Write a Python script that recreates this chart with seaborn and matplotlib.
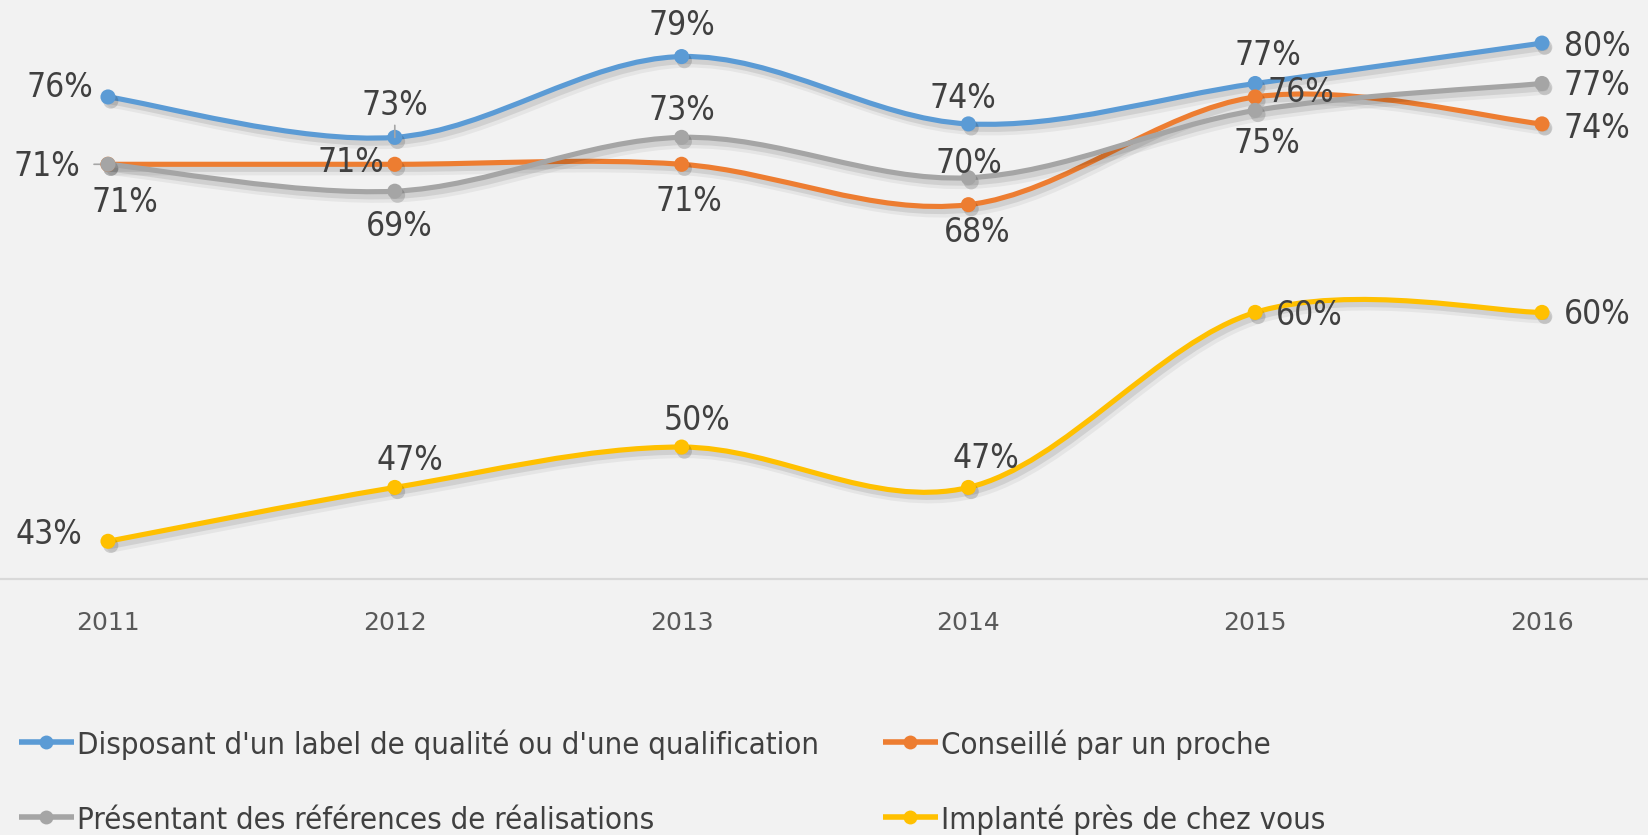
import numpy as np
import pandas as pd
import matplotlib
matplotlib.use("Agg")
import matplotlib.pyplot as plt
import seaborn as sns
from matplotlib.path import Path
from matplotlib.patches import PathPatch
from matplotlib.lines import Line2D
import matplotlib.patheffects as pe

# ---- data -----------------------------------------------------------------
years = ["2011", "2012", "2013", "2014", "2015", "2016"]
label_qualite = [76, 73, 79, 74, 77, 80]
conseil_proche = [71, 71, 71, 68, 76, 74]
references = [71, 69, 73, 70, 75, 77]
proximite = [43, 47, 50, 47, 60, 60]

series_names = [
    "Disposant d'un label de qualité ou d'une qualification",
    "Conseillé par un proche",
    "Présentant des références de réalisations",
    "Implanté près de chez vous",
]
series_values = [label_qualite, conseil_proche, references, proximite]

# ---- styling ----------------------------------------------------------------
colors = ["#5B9BD5", "#ED7D31", "#A5A5A5", "#FFC000"]
BG = "#F2F2F2"
TEXT = "#404040"

# data label placement: offset (pixels) of the label centre from its point
label_offsets = [
    [(-48, 12), (0, 34), (0, 34), (-6, 28), (13, 30), (55, -1)],
    [(-61, 0), (-44, 4), (7, -35), (9, -25), (46, 7), (55, -2)],
    [(17, -36), (4, -33), (0, 29), (0, 17), (12, -31), (55, 0)],
    [(-59, 9), (15, 29), (15, 29), (17, 31), (54, -1), (55, 0)],
]

sns.set_theme(style="white")
plt.rcParams["font.family"] = ["DejaVu Sans"]
LABEL_FONT = dict(family="DejaVu Sans", stretch="condensed")

W, H, DPI = 1648, 835, 100
fig = plt.figure(figsize=(W / DPI, H / DPI), dpi=DPI, facecolor=BG)
ax = fig.add_axes([0, (H - 579) / H, 1, 579 / H])
ax.set_facecolor(BG)

x = np.arange(len(years))
df = pd.DataFrame({
    "x": np.tile(x, len(series_names)),
    "valeur": np.concatenate(series_values),
    "serie": np.repeat(series_names, len(years)),
})


def smooth_path(xs, ys):
    """Bezier path through the points (Catmull-Rom style tangents)."""
    pts = np.column_stack([xs, ys]).astype(float)
    n = len(pts)
    verts = [pts[0]]
    codes = [Path.MOVETO]
    for i in range(n - 1):
        p0 = pts[i - 1] if i > 0 else pts[i]
        p1, p2 = pts[i], pts[i + 1]
        p3 = pts[i + 2] if i + 2 < n else pts[i + 1]
        c1 = p1 + (p2 - p0) / 6.0
        c2 = p2 - (p3 - p1) / 6.0
        verts += [c1, c2, p2]
        codes += [Path.CURVE4] * 3
    return Path(np.array(verts), codes)


line_shadow = [
    pe.SimpleLineShadow(offset=(3, -4), shadow_color="black", alpha=0.05, linewidth=8),
    pe.SimpleLineShadow(offset=(2, -3), shadow_color="black", alpha=0.09, linewidth=5),
    pe.Normal(),
]
marker_shadow = [
    pe.SimplePatchShadow(offset=(2, -3), shadow_rgbFace="black", alpha=0.15),
    pe.Normal(),
]

for k, (name, color) in enumerate(zip(series_names, colors)):
    sub = df[df["serie"] == name]
    patch = PathPatch(smooth_path(sub["x"].values, sub["valeur"].values),
                      fill=False, edgecolor=color, linewidth=3.7,
                      capstyle="round", joinstyle="round", zorder=2 + k * 2)
    patch.set_path_effects(line_shadow)
    ax.add_patch(patch)
    sc = sns.scatterplot(data=sub, x="x", y="valeur", color=color, s=118,
                         edgecolor="none", ax=ax, zorder=3 + k * 2, legend=False)
    sc.collections[-1].set_path_effects(marker_shadow)

# short leader lines for two displaced labels
ax.annotate("", xy=(x[1], label_qualite[1]), xytext=(0, 12),
            textcoords="offset pixels",
            arrowprops=dict(arrowstyle="-", color="#A6A6A6", lw=1.2,
                            shrinkA=0, shrinkB=0), zorder=9)
ax.annotate("", xy=(x[0], references[0]), xytext=(-14, 0),
            textcoords="offset pixels",
            arrowprops=dict(arrowstyle="-", color="#A6A6A6", lw=1.2,
                            shrinkA=0, shrinkB=0), zorder=1)

# data labels
for k, vals in enumerate(series_values):
    for i, v in enumerate(vals):
        dx, dy = label_offsets[k][i]
        ax.annotate(f"{v}%", xy=(x[i], v), xytext=(dx, dy - 12),
                    textcoords="offset pixels", ha="center", va="baseline",
                    fontsize=24, color=TEXT, zorder=20, **LABEL_FONT)

# axes
ax.set_xlim(-108 / 286.8, (W - 108) / 286.8)
ax.set_ylim(80 - (579 - 43.1) / 13.465, 80 + 43.1 / 13.465)
ax.set_xticks(x)
ax.set_xticklabels(years)
ax.set_yticks([])
ax.tick_params(axis="x", length=0, pad=23, labelsize=18, labelcolor="#595959")
ax.set_xlabel("")
ax.set_ylabel("")
for side in ["top", "left", "right"]:
    ax.spines[side].set_visible(False)
ax.spines["bottom"].set_color("#D9D9D9")
ax.spines["bottom"].set_linewidth(1.6)

# legend (two columns, two rows)
legend_slots = [(19, 742), (883, 742), (19, 817), (883, 817)]
for (lx, ly), name, color in zip(legend_slots, series_names, colors):
    yf = (H - ly) / H
    fig.add_artist(Line2D([lx / W, (lx + 55) / W], [yf, yf], color=color,
                          linewidth=4, solid_capstyle="butt",
                          transform=fig.transFigure))
    fig.add_artist(Line2D([(lx + 27) / W], [yf], color=color, marker="o",
                          markersize=10, markeredgewidth=0,
                          transform=fig.transFigure))
    fig.text((lx + 58) / W, (H - ly - 12) / H, name, ha="left", va="baseline",
             fontsize=22.3, color=TEXT, **LABEL_FONT)

fig.savefig("out.png", dpi=DPI, facecolor=BG)
